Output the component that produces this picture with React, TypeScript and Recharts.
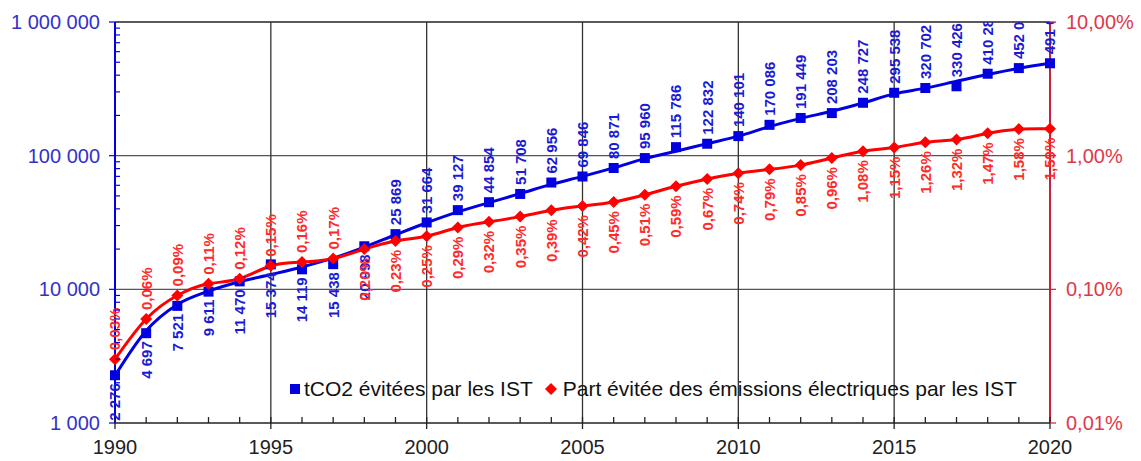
import React from 'react';
import { ComposedChart, Line, XAxis, YAxis, ReferenceLine } from 'recharts';

// données
const annees = [
  1990, 1991, 1992, 1993, 1994, 1995, 1996, 1997, 1998, 1999, 2000,
  2001, 2002, 2003, 2004, 2005, 2006, 2007, 2008, 2009, 2010,
  2011, 2012, 2013, 2014, 2015, 2016, 2017, 2018, 2019, 2020,
];
const tco2Evitees = [
  2276, 4697, 7521, 9611, 11470, 15374, 14119, 15438, 20998, 25869, 31664,
  39127, 44854, 51708, 62956, 69846, 80871, 95960, 115786, 122832, 140101,
  170086, 191449, 208203, 248727, 295538, 320702, 330426, 410280, 452025, 491076,
];
// courbe de tendance bleue (elle ne passe pas par tous les points)
const tendanceTco2 = [
  2260, 4900, 7700, 9700, 11400, 12900, 14700, 17100, 20700, 25600, 31500,
  38000, 44500, 52000, 61000, 70000, 81000, 95000, 108000, 123000, 140000,
  165000, 190000, 215000, 248000, 290000, 320000, 360000, 405000, 450000, 491000,
];
// part évitée des émissions électriques, en %
const partEvitee = [
  0.03, 0.06, 0.09, 0.11, 0.12, 0.15, 0.16, 0.17, 0.2, 0.23, 0.25,
  0.29, 0.32, 0.35, 0.39, 0.42, 0.45, 0.51, 0.59, 0.67, 0.74,
  0.79, 0.85, 0.96, 1.08, 1.15, 1.26, 1.32, 1.47, 1.58, 1.59,
];
const anneesGrille = [1995, 2000, 2005, 2010, 2015];
const decadesGauche = [1000, 10000, 100000, 1000000];
const decadesDroite = [0.01, 0.1, 1, 10];
const multiplesMineurs = [2, 3, 4, 5, 6, 7, 8, 9];
const nomsSeries = ['tCO2 évitées par les IST', 'Part évitée des émissions électriques par les IST'];

const data = annees.map((annee, i) => ({
  annee,
  tco2: tco2Evitees[i],
  tendance: tendanceTco2[i],
  part: partEvitee[i],
}));

const ticksGauche = decadesGauche.flatMap((d, i) =>
  i < decadesGauche.length - 1 ? [d, ...multiplesMineurs.map((m) => d * m)] : [d]
);

const BLEU = '#0000e0';
const ROUGE = '#ff0000';
const POLICE = '"Liberation Sans", Arial, sans-serif';

const fmtMilliers = (v: number) => String(Math.round(v)).replace(/\B(?=(\d{3})+(?!\d))/g, ' ');
const fmtPct = (v: number, d = 2) => v.toFixed(d).replace('.', ',') + '%';

function PointBleu(props: any) {
  const { cx, cy, payload } = props;
  if (cx == null || cy == null) return null;
  const dessous = payload.annee <= 1998;
  const ay = dessous ? cy + 8 : cy - 9;
  return (
    <g>
      <rect x={cx - 5} y={cy - 5} width={10} height={10} fill={BLEU} />
      <text
        x={cx}
        y={ay}
        transform={`rotate(-90 ${cx} ${ay})`}
        textAnchor={dessous ? 'end' : 'start'}
        dominantBaseline="central"
        fontFamily={POLICE}
        fontSize={15}
        fontWeight="bold"
        fill="#1a1ad6"
      >
        {fmtMilliers(payload.tco2)}
      </text>
    </g>
  );
}

function PointRouge(props: any) {
  const { cx, cy, payload } = props;
  if (cx == null || cy == null) return null;
  const dessus = payload.annee <= 1997;
  const ay = dessus ? cy - 9 : cy + 9;
  return (
    <g>
      <polygon
        points={`${cx},${cy - 6} ${cx + 6},${cy} ${cx},${cy + 6} ${cx - 6},${cy}`}
        fill={ROUGE}
      />
      <text
        x={cx}
        y={ay}
        transform={`rotate(-90 ${cx} ${ay})`}
        textAnchor={dessus ? 'start' : 'end'}
        dominantBaseline="central"
        fontFamily={POLICE}
        fontSize={15}
        fontWeight="bold"
        fill="#ff2a2a"
      >
        {fmtPct(payload.part)}
      </text>
    </g>
  );
}

function TickX(props: any) {
  const { x, y, payload } = props;
  const majeur = payload.value % 5 === 0;
  return (
    <g>
      <line x1={x} x2={x} y1={y - 6} y2={majeur ? y + 6 : y} stroke="#222" strokeWidth={1.3} />
      {majeur && (
        <text x={x} y={y + 31} textAnchor="middle" fontFamily={POLICE} fontSize={20} fill="#222">
          {payload.value}
        </text>
      )}
    </g>
  );
}

function TickGauche(props: any) {
  const { x, y, payload } = props;
  const majeur = decadesGauche.includes(payload.value);
  if (!majeur) {
    return <line x1={x} x2={x + 5} y1={y} y2={y} stroke={BLEU} strokeWidth={1.2} />;
  }
  return (
    <g>
      <line x1={x - 6} x2={x} y1={y} y2={y} stroke={BLEU} strokeWidth={1.2} />
      <text
        x={x - 15}
        y={y}
        textAnchor="end"
        dominantBaseline="central"
        fontFamily={POLICE}
        fontSize={20}
        fill="#3232c8"
      >
        {fmtMilliers(payload.value)}
      </text>
    </g>
  );
}

function TickDroite(props: any) {
  const { x, y, payload } = props;
  return (
    <g>
      <line x1={x} x2={x + 6} y1={y} y2={y} stroke="#c8203c" strokeWidth={1.2} />
      <text
        x={x + 16}
        y={y}
        textAnchor="start"
        dominantBaseline="central"
        fontFamily={POLICE}
        fontSize={20}
        fill="#e0384a"
      >
        {fmtPct(payload.value)}
      </text>
    </g>
  );
}

export default function App() {
  return (
    <div style={{ position: 'absolute', left: 0, top: 0, width: 1141, height: 461, background: '#fff' }}>
      <ComposedChart
        width={1141}
        height={461}
        data={data}
        margin={{ top: 22, right: 0, bottom: 0, left: 0 }}
      >
        <XAxis
          dataKey="annee"
          type="number"
          domain={[1990, 2020]}
          ticks={annees}
          interval={0}
          height={38}
          tickSize={0}
          tickMargin={0}
          tickLine={false}
          axisLine={{ stroke: '#222', strokeWidth: 1.5 }}
          tick={<TickX />}
        />
        <YAxis
          yAxisId="gauche"
          scale="log"
          domain={[1000, 1000000]}
          allowDataOverflow
          ticks={ticksGauche}
          interval={0}
          width={115}
          tickSize={0}
          tickMargin={0}
          tickLine={false}
          axisLine={{ stroke: BLEU, strokeWidth: 2 }}
          tick={<TickGauche />}
        />
        <YAxis
          yAxisId="droite"
          orientation="right"
          scale="log"
          domain={[0.01, 10]}
          allowDataOverflow
          ticks={decadesDroite}
          interval={0}
          width={91}
          tickSize={0}
          tickMargin={0}
          tickLine={false}
          axisLine={{ stroke: '#c8203c', strokeWidth: 2 }}
          tick={<TickDroite />}
        />
        {decadesGauche.slice(1).map((v) => (
          <ReferenceLine
            key={'h' + v}
            yAxisId="gauche"
            y={v}
            stroke={v === 1000000 ? '#222' : '#555'}
            strokeWidth={1.3}
          />
        ))}
        {anneesGrille.map((a) => (
          <ReferenceLine key={'v' + a} yAxisId="gauche" x={a} stroke="#333" strokeWidth={1.3} />
        ))}
        <Line
          yAxisId="gauche"
          dataKey="tendance"
          type="monotone"
          stroke={BLEU}
          strokeWidth={3}
          dot={false}
          activeDot={false}
          isAnimationActive={false}
        />
        <Line
          yAxisId="gauche"
          dataKey="tco2"
          stroke="none"
          dot={(p: any) => <PointBleu key={'b' + p.index} {...p} />}
          activeDot={false}
          isAnimationActive={false}
        />
        <Line
          yAxisId="droite"
          dataKey="part"
          type="natural"
          stroke={ROUGE}
          strokeWidth={3}
          dot={(p: any) => <PointRouge key={'r' + p.index} {...p} />}
          activeDot={false}
          isAnimationActive={false}
        />
      </ComposedChart>
      <div
        style={{
          position: 'absolute',
          left: 290,
          top: 377,
          display: 'flex',
          alignItems: 'center',
          whiteSpace: 'nowrap',
          fontFamily: POLICE,
          fontSize: 21,
          lineHeight: '24px',
          color: '#111',
        }}
      >
        <span style={{ width: 10, height: 10, background: BLEU, marginRight: 4 }} />
        <span>{nomsSeries[0]}</span>
        <svg width={12} height={12} style={{ marginLeft: 12, marginRight: 6 }}>
          <polygon points="6,0 12,6 6,12 0,6" fill={ROUGE} />
        </svg>
        <span>{nomsSeries[1]}</span>
      </div>
    </div>
  );
}
